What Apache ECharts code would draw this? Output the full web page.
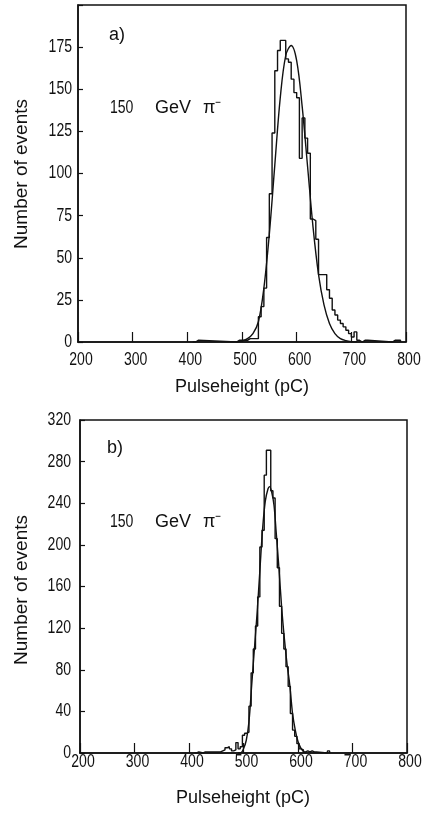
<!DOCTYPE html>
<html>
<head>
<meta charset="utf-8">
<script src="https://cdn.jsdelivr.net/npm/echarts@6/dist/echarts.min.js"></script>
<style>
html,body{margin:0;padding:0;background:#fff;}
#chart{width:430px;height:813px;}
</style>
</head>
<body>
<div id="chart"></div>
<script>
// ---- Data ----
// Panel a: histogram bin left edges (pC) and counts
const binsA = [410, 415, 420,
  490, 495, 500, 505, 510, 515, 520, 525, 530, 535, 540, 545, 550, 555, 560, 565, 570, 575,
  580, 585, 590, 595, 600, 605, 610, 615, 620, 625, 630, 635, 640, 645, 650, 655, 660, 665,
  670, 675, 680, 685, 690, 695, 700, 705, 710, 715, 720, 725, 730,
  775, 780, 785, 790];
const countsA = [0, 1, 0,
  1, 1, 1, 1, 2, 2, 2, 2, 15, 21, 32, 62, 88, 124, 161, 173, 179, 179,
  168, 166, 156, 148, 145, 109, 133, 121, 112, 73, 72, 61, 40, 40, 40, 31, 26, 19,
  16, 13, 11, 9, 7, 5, 3, 6, 1, 0, 1, 1, 0,
  1, 1, 1, 0];
// Panel a: fitted curve
const fitXA = [490, 500, 510, 520, 530, 540, 550, 560, 570, 580, 590, 600, 610, 620, 630, 640, 650, 660, 670, 680, 690, 700, 710];
const fitYA = [0, 0.5, 2, 5, 12, 32, 64, 105, 145, 170, 176, 167, 140, 104, 68, 40, 22, 11, 5, 2, 0.8, 0.2, 0];

// Panel b: histogram bin left edges (pC) and counts
const binsB = [410, 414, 418,
  426, 430, 434, 438, 442, 446, 450, 454, 458, 462, 466, 470, 474, 478, 482, 486,
  490, 494, 498, 502, 506, 510, 514, 518, 522, 526, 530, 534, 538, 542, 546, 550,
  554, 558, 562, 566, 570, 574, 578, 582, 586, 590, 594, 598, 602, 606, 610, 614,
  618, 622, 626, 630, 634,
  654, 658];
const countsB = [0, 1, 0,
  1, 1, 1, 1, 1, 1, 1, 1, 2, 3, 5, 6, 4, 2, 3, 10,
  4, 6, 17, 19, 20, 45, 77, 100, 122, 150, 198, 214, 267, 291, 291, 252,
  245, 206, 178, 141, 115, 100, 83, 64, 38, 22, 16, 9, 4, 3, 1, 2,
  1, 2, 1, 1, 0,
  2, 0];
// Panel b: fitted curve
const fitXB = [490, 496, 500, 505, 510, 515, 520, 525, 530, 535, 540, 545, 548, 552, 556, 560, 565, 570, 575, 580, 585, 590, 595, 600, 605, 610, 615];
const fitYB = [0, 0.5, 4, 12, 30, 65, 100, 135, 175, 215, 242, 254, 256, 250, 238, 212, 178, 140, 110, 85, 65, 38, 22, 11, 5, 1.5, 0];

// Axis ticks
const xTicks = [200, 300, 400, 500, 600, 700, 800];
const yTicksA = [0, 25, 50, 75, 100, 125, 150, 175, 200];
const yTicksB = [0, 40, 80, 120, 160, 200, 240, 280, 320];

// Texts
const panelLabels = ['a)', 'b)'];
const beamText = ['150', 'GeV', 'π\u207B'];
const xTitle = 'Pulseheight (pC)';
const yTitle = 'Number of events';

// ---- Chart ----
const INK = '#111';
const FAM = "'Liberation Sans', Arial, sans-serif";
const FS = 18;
const DIGIT_SCALE = 0.78;

function pairs(xs, ys) { return xs.map((x, i) => [x, ys[i]]); }

const chart = echarts.init(document.getElementById('chart'), null, {renderer: 'canvas'});

function xAxisCfg(gridIndex) {
  return {
    type: 'value', gridIndex: gridIndex,
    min: xTicks[0], max: xTicks[xTicks.length - 1], interval: xTicks[1] - xTicks[0],
    axisLine: {show: true, lineStyle: {color: INK, width: 1.5}},
    axisTick: {show: true, inside: true, length: 10, lineStyle: {color: INK, width: 1.2}},
    axisLabel: {show: false},
    splitLine: {show: false}
  };
}
function yAxisCfg(gridIndex, ticks) {
  return {
    type: 'value', gridIndex: gridIndex,
    min: ticks[0], max: ticks[ticks.length - 1], interval: ticks[1] - ticks[0],
    axisLine: {show: true, lineStyle: {color: INK, width: 1.5}},
    axisTick: {show: true, inside: true, length: 5, lineStyle: {color: INK, width: 1.2}},
    axisLabel: {show: false},
    splitLine: {show: false}
  };
}
function histSeries(idx, bins, counts) {
  return {
    type: 'line', xAxisIndex: idx, yAxisIndex: idx, step: 'end',
    data: pairs(bins, counts), showSymbol: false, silent: true,
    lineStyle: {color: INK, width: 1.4}, animation: false
  };
}
function fitSeries(idx, xs, ys) {
  return {
    type: 'line', xAxisIndex: idx, yAxisIndex: idx, smooth: 0.35,
    data: pairs(xs, ys), showSymbol: false, silent: true,
    lineStyle: {color: INK, width: 1.4}, animation: false
  };
}
function txt(x, y, s, opts) {
  opts = opts || {};
  return {
    type: 'text', x: x, y: y, rotation: opts.rot || 0, scaleX: opts.sx || 1,
    style: {text: s, fill: INK, font: (opts.fs || FS) + 'px ' + FAM,
            textAlign: opts.align || 'left', textVerticalAlign: 'middle'}
  };
}

const option = {
  backgroundColor: '#fff',
  animation: false,
  grid: [
    {left: 78, top: 5, width: 328, height: 337, show: true, borderColor: INK, borderWidth: 1.5, backgroundColor: 'transparent'},
    {left: 80, top: 420, width: 327, height: 333, show: true, borderColor: INK, borderWidth: 1.5, backgroundColor: 'transparent'}
  ],
  xAxis: [xAxisCfg(0), xAxisCfg(1)],
  yAxis: [yAxisCfg(0, yTicksA), yAxisCfg(1, yTicksB)],
  series: [
    histSeries(0, binsA, countsA),
    fitSeries(0, fitXA, fitYA),
    histSeries(1, binsB, countsB),
    fitSeries(1, fitXB, fitYB)
  ]
};
chart.setOption(option);

// Tick labels placed through the library's own scales (narrow digits as in the original)
function tickLabels(gi, yTicks, hideMax, yLabelRight, xLabelMid) {
  const out = [];
  xTicks.forEach(v => {
    const p = chart.convertToPixel({gridIndex: gi}, [v, yTicks[0]]);
    out.push(txt(p[0] + 3, xLabelMid, String(v), {align: 'center', sx: DIGIT_SCALE}));
  });
  yTicks.forEach((v, i) => {
    if (hideMax && i === yTicks.length - 1) return;
    const p = chart.convertToPixel({gridIndex: gi}, [xTicks[0], v]);
    out.push(txt(yLabelRight, p[1], String(v), {align: 'right', sx: DIGIT_SCALE}));
  });
  return out;
}

const graphics = []
  .concat(tickLabels(0, yTicksA, true, 72, 360))
  .concat(tickLabels(1, yTicksB, false, 71, 762))
  .concat([
    txt(109, 35, panelLabels[0]),
    txt(110, 108, beamText[0], {sx: DIGIT_SCALE}), txt(155, 108, beamText[1]), txt(203, 108, beamText[2]),
    txt(242, 387, xTitle, {align: 'center'}),
    txt(22, 174, yTitle, {align: 'center', rot: Math.PI / 2, fs: 19}),
    txt(107, 448, panelLabels[1]),
    txt(110, 522, beamText[0], {sx: DIGIT_SCALE}), txt(155, 522, beamText[1]), txt(203, 522, beamText[2]),
    txt(243, 798, xTitle, {align: 'center'}),
    txt(22, 590, yTitle, {align: 'center', rot: Math.PI / 2, fs: 19})
  ]);
chart.setOption({graphic: graphics});
</script>
</body>
</html>
